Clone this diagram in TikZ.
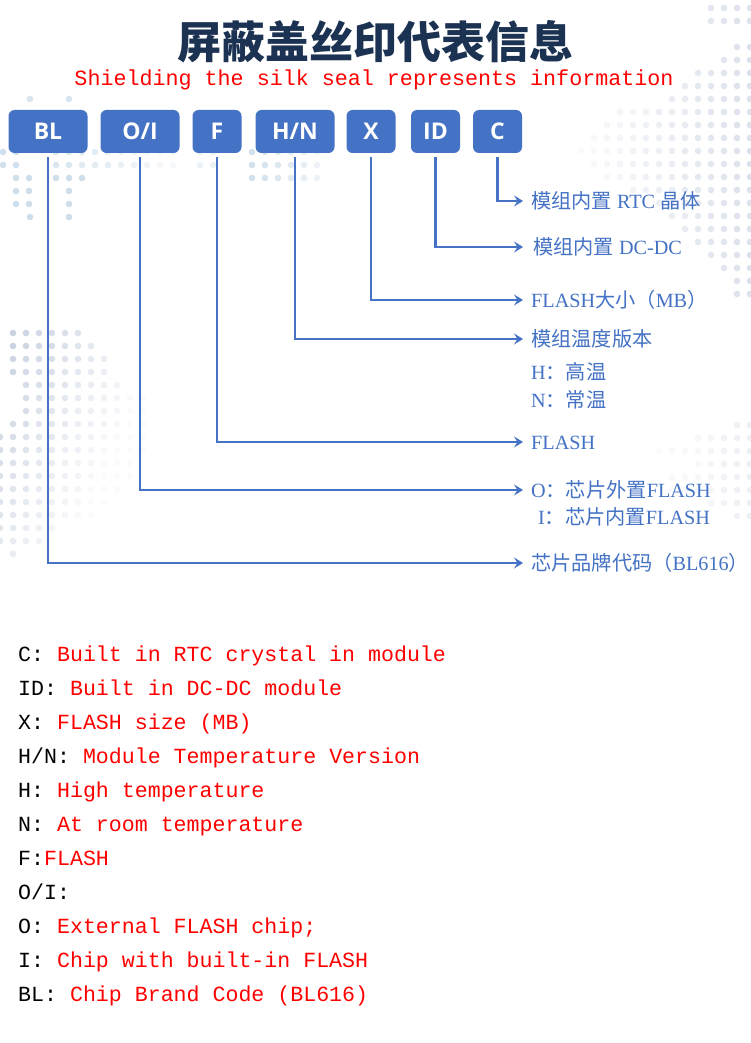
\documentclass[tikz,border=0pt]{standalone}
\usepackage{fontspec}
\setmainfont{Liberation Serif}
\newfontfamily\cjk{Noto Sans CJK SC}
\newfontfamily\mono{Liberation Mono}
\newfontfamily\boxfont{Open Sans}
\usetikzlibrary{arrows.meta,positioning}
\definecolor{boxblue}{RGB}{68,114,196}
\definecolor{titlecol}{RGB}{28,50,82}
\definecolor{dotgrey}{RGB}{196,205,222}
\definecolor{dotblue}{RGB}{190,212,228}
\definecolor{pured}{RGB}{255,0,0}
% dot row: y, x0, count, colour, opacity-expression (uses \xx)
\newcommand\dotrow[5]{%
  \foreach \k in {1,...,#3}{%
    \pgfmathsetmacro\xx{#2+13*(\k-1)}%
    \pgfmathsetmacro\op{max(0.08,min(1,#5))}%
    \fill[#4,fill opacity=\op] (\xx,#1) circle[radius=3.3pt];}}
\begin{document}
\begin{tikzpicture}[x=1pt,y=-1pt,
  chip/.style={fill=boxblue, rounded corners=6pt, text=white,
    font=\boxfont\bfseries\fontsize{23}{23}\selectfont,
    minimum height=43pt, inner sep=0pt, text height=16.5pt, text depth=0pt},
  wide/.style={chip, minimum width=79pt},
  narrow/.style={chip, minimum width=49pt},
  lbl/.style={anchor=west, inner sep=0pt, text=boxblue,
    font=\fontsize{20.2}{21}\selectfont, text height=16.5pt, text depth=2pt},
  conn/.style={draw=boxblue, line width=2.3pt,
    -{Stealth[length=9pt,width=11pt,inset=3.5pt]}},
  bline/.style={anchor=base west, inner sep=0pt,
    font=\mono\fontsize{21.6}{22}\selectfont}]
\useasboundingbox (0,0) rectangle (750,1043);
\fill[white] (0,0) rectangle (750,1043);

% ---------- background dots ----------
% top right
\foreach \yy/\xs/\n in {8/711/4,21/711/4,47/737/2,60/724/3,73/698/5,86/685/6,99/672/7,
  112/620/11,125/607/12,138/594/13,151/581/14,164/594/13,177/607/12,190/633/10,
  203/659/8,216/672/7,229/685/6,242/698/5,255/711/4,268/724/3,281/737/2,294/737/2}{
  \dotrow{\yy}{\xs}{\n}{dotgrey}{0.08+0.5*(\xx-580)/170}}
% top left near boxes
\dotrow{99}{30}{1}{dotblue}{0.6}
\dotrow{99}{69}{1}{dotblue}{0.6}
\foreach \yy in {152,165}{
  \dotrow{\yy}{3}{2}{dotblue}{0.7}
  \dotrow{\yy}{56}{10}{dotblue}{0.8-\xx/260}
  \dotrow{\yy}{200}{2}{dotblue}{0.3}
  \dotrow{\yy}{252}{6}{dotblue}{0.7-(\xx-250)/160}}
\dotrow{178}{252}{6}{dotblue}{0.7-(\xx-250)/160}
\dotrow{178}{16}{2}{dotblue}{0.75}
\dotrow{178}{56}{3}{dotblue}{0.75}
\foreach \yy in {191,204}{
  \dotrow{\yy}{16}{2}{dotblue}{0.75}
  \dotrow{\yy}{69}{1}{dotblue}{0.75}}
\dotrow{217}{30}{1}{dotblue}{0.75}
\dotrow{217}{69}{1}{dotblue}{0.75}
% lower left
\foreach \yy/\xs/\n in {333/13/6,346/13/7,359/13/8,372/13/8,385/26/8,398/26/10,411/26/10,
  424/13/11,437/0/12,450/0/12,463/0/11,476/0/11,489/0/10,502/0/9,515/0/8,528/0/5,541/0/4,554/13/1}{
  \dotrow{\yy}{\xs}{\n}{dotgrey}{0.95-\xx/190-(\yy-333)/420}}
% lower right
\foreach \yy/\xs/\n in {425/737/2,438/698/5,451/659/8,464/698/5,477/672/7,490/672/7,503/711/4,516/737/2}{
  \dotrow{\yy}{\xs}{\n}{dotgrey}{0.3*(\xx-640)/110}}

% ---------- title ----------
\node[font=\cjk\bfseries\fontsize{44}{44}\selectfont, text=titlecol, inner sep=0pt]
  (title) at (375,42) {屏蔽盖丝印代表信息};
\node[font=\mono\fontsize{21.7}{22}\selectfont, text=pured, anchor=base, inner sep=0pt]
  (sub) at (374,86) {Shielding the silk seal represents information};

% ---------- boxes ----------
\node[wide]   (bl) at (48,131.5)  {BL};
\node[wide]   (oi) at (140,131.5) {O/I};
\node[narrow] (f)  at (217,131.5) {F};
\node[wide]   (hn) at (295,131.5) {H/N};
\node[narrow] (x)  at (371,131.5) {X};
\node[narrow] (id) at (435.5,131.5) {ID};
\node[narrow] (c)  at (497.5,131.5) {C};

% ---------- labels ----------
\node[lbl] (lc)  at (531,201) {{\cjk 模组内置} RTC {\cjk 晶体}};
\node[lbl] (lid) at (533,247) {{\cjk 模组内置} DC-DC};
\node[lbl] (lx)  at (531,300) {FLASH{\cjk 大小（}MB{\cjk ）}};
\node[lbl] (lhn) at (531,339) {\cjk 模组温度版本};
\node[lbl] (lh)  at (531,372) {H{\cjk ：高温}};
\node[lbl] (ln)  at (531,400) {N{\cjk ：常温}};
\node[lbl] (lf)  at (531,442) {FLASH};
\node[lbl] (lo)  at (531,490) {O{\cjk ：芯片外置}FLASH};
\node[lbl] (li)  at (538,517) {I{\cjk ：芯片内置}FLASH};
\node[lbl] (lbl) at (531,563) {{\cjk 芯片品牌代码（}BL616{\cjk ）}};

% ---------- connectors ----------
\draw[conn] ([yshift=-4pt]c.south)  |- ([xshift=-8pt]lc.west);
\draw[conn] ([yshift=-4pt]id.south) |- ([xshift=-10pt]lid.west);
\draw[conn] ([yshift=-4pt]x.south)  |- ([xshift=-8pt]lx.west);
\draw[conn] ([yshift=-4pt]hn.south) |- ([xshift=-8pt]lhn.west);
\draw[conn] ([yshift=-4pt]f.south)  |- ([xshift=-8pt]lf.west);
\draw[conn] ([yshift=-4pt]oi.south) |- ([xshift=-8pt]lo.west);
\draw[conn] ([yshift=-4pt]bl.south) |- ([xshift=-8pt]lbl.west);

% ---------- bottom legend ----------
\node[bline] (t1)  at (18,661.5) {C: \textcolor{pured}{Built in RTC crystal in module}};
\node[bline] (t2)  at (18,695.5) {ID: \textcolor{pured}{Built in DC-DC module}};
\node[bline] (t3)  at (18,729.5) {X: \textcolor{pured}{FLASH size (MB)}};
\node[bline] (t4)  at (18,763.5) {H/N: \textcolor{pured}{Module Temperature Version}};
\node[bline] (t5)  at (18,797.5) {H: \textcolor{pured}{High temperature}};
\node[bline] (t6)  at (18,831.5) {N: \textcolor{pured}{At room temperature}};
\node[bline] (t7)  at (18,865.5) {F:\textcolor{pured}{FLASH}};
\node[bline] (t8)  at (18,899.5) {O/I:};
\node[bline] (t9)  at (18,933.5) {O: \textcolor{pured}{External FLASH chip;}};
\node[bline] (t10) at (18,967.5) {I: \textcolor{pured}{Chip with built-in FLASH}};
\node[bline] (t11) at (18,1001.5) {BL: \textcolor{pured}{Chip Brand Code (BL616)}};
\end{tikzpicture}
\end{document}
